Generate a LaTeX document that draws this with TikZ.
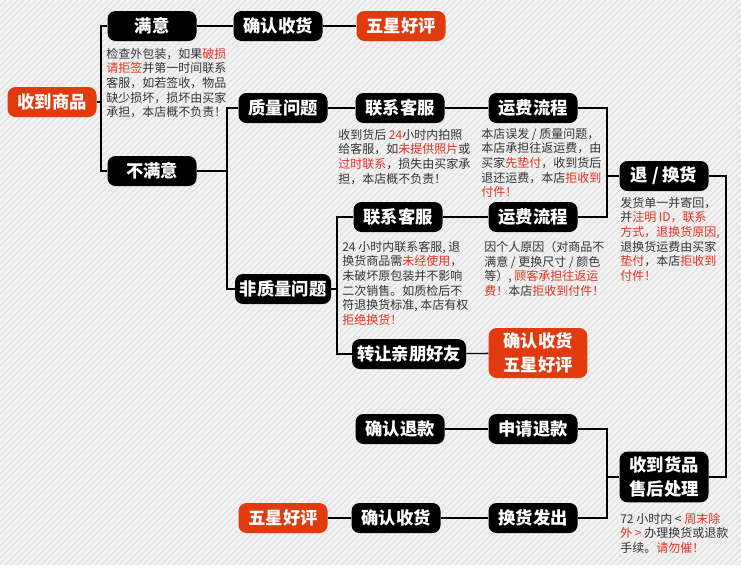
\documentclass[tikz,border=0pt]{standalone}
\usepackage{fontspec}
\setmainfont{Noto Sans CJK SC}
\definecolor{bg}{RGB}{243,243,243}
\definecolor{stripe}{RGB}{220,220,220}
\definecolor{boxred}{RGB}{224,58,14}
\definecolor{txtred}{RGB}{232,48,32}
\definecolor{txtgray}{RGB}{51,51,51}
\newcommand{\rd}[1]{\textcolor{txtred}{#1}}
\begin{document}
\begin{tikzpicture}[x=0.75pt,y=-0.75pt,
 blackbox/.style={fill=black, text=white, rounded corners=6pt, minimum height=22.5pt, minimum width=66.75pt, inner sep=0pt, font=\fontsize{13pt}{18pt}\selectfont\bfseries},
 redbox/.style={blackbox, fill=boxred},
 note/.style={anchor=north west, inner sep=0pt, align=left, text=txtgray, font=\fontsize{9pt}{10.9pt}\selectfont},
 link/.style={draw=black, line width=1pt}]
\useasboundingbox (0,0) rectangle (741,572);
\fill[white] (0,0) rectangle (741,572);
\begin{scope}
\clip (0,0) rectangle (741,565);
\fill[bg] (0,0) rectangle (741,565);
\foreach \k in {0,6,...,1320} \draw[stripe, line width=0.6pt] (\k,0) -- (\k-565,565);
\end{scope}

\node[redbox] (recv) at (52,102) {收到商品};
\node[blackbox] (sat) at (152,26) {满意};
\node[blackbox] (conf1) at (278,26) {确认收货};
\node[redbox] (star1) at (401,26) {五星好评};
\node[blackbox] (unsat) at (152,171) {不满意};
\node[blackbox] (qual) at (283,108) {质量问题};
\node[blackbox] (cs1) at (400,108) {联系客服};
\node[blackbox] (fee1) at (533,108) {运费流程};
\node[blackbox] (ret) at (664,176) {退 / 换货};
\node[blackbox] (cs2) at (398,217) {联系客服};
\node[blackbox] (fee2) at (533,217) {运费流程};
\node[blackbox, minimum width=72pt] (nonq) at (283,289) {非质量问题};
\node[blackbox, minimum width=85.5pt] (gift) at (409,354) {转让亲朋好友};
\node[redbox, minimum width=74pt, minimum height=37.5pt, align=center] (conf2) at (538,353) {确认收货\\五星好评};
\node[blackbox] (refc) at (400,429) {确认退款};
\node[blackbox] (refa) at (533,429) {申请退款};
\node[blackbox, minimum height=38pt, align=center] (after) at (664,477) {收到货品\\售后处理};
\node[redbox] (star3) at (283,518) {五星好评};
\node[blackbox] (conf3) at (396,518) {确认收货};
\node[blackbox] (ship) at (533,518) {换货发出};

\coordinate (j1) at (101,0);
\coordinate (j2) at (227,0);
\coordinate (j3) at (607,0);
\coordinate (j4) at (337,0);
\coordinate (j5) at (726,0);

\draw[link] (recv.east) -| (j1|-sat.west) -- (sat.west);
\draw[link] (recv.east) -| (j1|-unsat.west) -- (unsat.west);
\draw[link] (sat) -- (conf1);
\draw[link] (conf1) -- (star1);
\draw[link] (unsat.east) -| (j2|-qual.west) -- (qual.west);
\draw[link] (unsat.east) -| (j2|-nonq.west) -- (nonq.west);
\draw[link] (qual) -- (cs1);
\draw[link] (cs1) -- (fee1);
\draw[link] (fee1.east) -| (j3|-ret.west) -- (ret.west);
\draw[link] (fee1.east) -| (j3|-fee2.east) -- (fee2.east);
\draw[link] (cs2) -- (fee2);
\draw[link] (nonq.east) -- (j4|-nonq.east);
\draw[link] (cs2.west) -| (j4|-gift.west) -- (gift.west);
\draw[link] (gift) -- (conf2);
\draw[link] (ret.east) -| (j5|-after.east) -- (after.east);
\draw[link] (after.west) -| (j3|-refa.east) -- (refa.east);
\draw[link] (after.west) -| (j3|-ship.east) -- (ship.east);
\draw[link] (refa) -- (refc);
\draw[link] (ship) -- (conf3);
\draw[link] (conf3) -- (star3);

\node[note] (nA) at (106,48) {检查外包装，如果\rd{破损}\\\rd{请拒签}并第一时间联系\\客服，如若签收，物品\\缺少损坏，损坏由买家\\承担，本店概不负责！};
\node[note] (nB) at (338,129) {收到货后 \rd{24}小时内拍照\\给客服，如\rd{未提供照片}或\\\rd{过时联系}，损失由买家承\\担，本店概不负责！};
\node[note] (nC) at (481,128) {本店误发 / 质量问题，\\本店承担往返运费，由\\买家\rd{先垫付}，收到货后\\退还运费，本店\rd{拒收到}\\\rd{付件！}};
\node[note] (nD) at (620,197) {发货单一并寄回，\\并\rd{注明 ID，联系}\\\rd{方式，退换货原因,}\\退换货运费由买家\\\rd{垫付}，本店\rd{拒收到}\\\rd{付件！}};
\node[note] (nE) at (342,241) {24 小时内联系客服, 退\\换货商品需\rd{未经使用}，\\未破坏原包装并不影响\\二次销售。如质检后不\\符退换货标准, 本店有权\\\rd{拒绝换货！}};
\node[note] (nF) at (484,241) {因个人原因（对商品不\\满意 / 更换尺寸 / 颜色\\等）, \rd{顾客承担往返运}\\\rd{费！}本店\rd{拒收到付件！}};
\node[note] (nG) at (620,513) {72 小时内 < \rd{周末除}\\\rd{外 >} 办理换货或退款\\手续。\rd{请勿催！}};
\end{tikzpicture}
\end{document}
